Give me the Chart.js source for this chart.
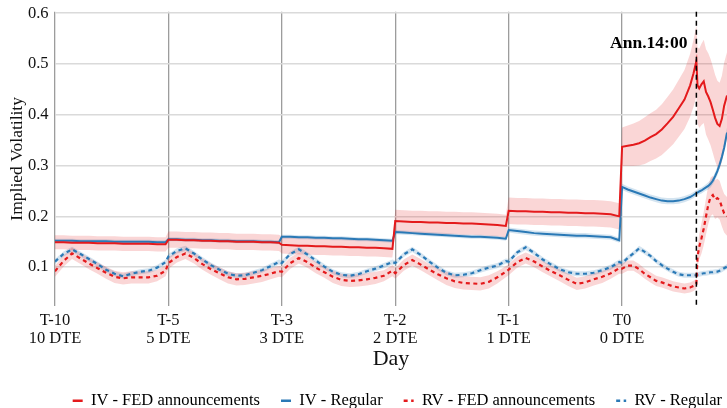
<!DOCTYPE html>
<html>
<head>
<meta charset="utf-8">
<script src="https://cdn.jsdelivr.net/npm/chart.js@4.4.1/dist/chart.umd.min.js"></script>
<style>
  html, body { margin: 0; padding: 0; background: #fff; overflow: hidden; }
  canvas { display: block; }
</style>
</head>
<body>
<canvas id="chart" width="727" height="408"></canvas>
<script>
// ---- data -------------------------------------------------------------
// trading days before the FOMC decision (x = day index, fraction = time within session)
const dayTicks = [0, 1, 2, 3, 4, 5];
const dayNames = ['T-10', 'T-5', 'T-3', 'T-2', 'T-1', 'T0'];
const dteNames = ['10 DTE', '5 DTE', '3 DTE', '2 DTE', '1 DTE', '0 DTE'];
const yTicks = [0.1, 0.2, 0.3, 0.4, 0.5, 0.6];

// intraday sampling positions for T-10 .. T-1 and the finer grid used on T0
const sessionSteps = [0, 0.075, 0.15, 0.225, 0.3, 0.375, 0.45, 0.525, 0.6, 0.675, 0.75, 0.825, 0.9, 0.975];
const lastSessionSteps = [0, 0.05, 0.1, 0.15, 0.2, 0.25, 0.3, 0.35, 0.4, 0.45, 0.5, 0.55, 0.6, 0.63, 0.655,
                          0.665, 0.68, 0.7, 0.72, 0.74, 0.76, 0.78, 0.8, 0.82, 0.84, 0.86, 0.88, 0.9, 0.925];
const announcementTime = 5.655;   // 14:00 on T0
const annLabelLevel = 0.532;
const xEnd = 5.925;
const yLow = 0.0235, yHigh = 0.603;

// IV - FED announcements (mean and half-width of the shaded band)
const ivFed = [
  0.149,0.149,0.148,0.148,0.148,0.147,0.147,0.147,0.146,0.146,0.146,0.146,0.145,0.145,
  0.154,0.154,0.153,0.153,0.152,0.152,0.151,0.151,0.150,0.150,0.150,0.149,0.149,0.148,
  0.144,0.143,0.142,0.142,0.141,0.141,0.140,0.140,0.139,0.139,0.138,0.138,0.137,0.136,
  0.191,0.190,0.189,0.189,0.188,0.188,0.187,0.187,0.186,0.186,0.185,0.184,0.183,0.181,
  0.211,0.210,0.210,0.209,0.209,0.208,0.208,0.207,0.207,0.206,0.206,0.205,0.204,0.200,
  0.337,0.339,0.341,0.344,0.349,0.356,0.362,0.371,0.383,0.396,0.413,0.430,0.458,0.482,0.506,
  0.458,0.452,0.460,0.466,0.445,0.436,0.425,0.410,0.394,0.382,0.378,0.392,0.418,0.438
];
const ivFedSpread = [
  0.014,0.014,0.014,0.014,0.014,0.014,0.014,0.014,0.014,0.014,0.014,0.014,0.014,0.014,
  0.016,0.016,0.016,0.016,0.016,0.016,0.016,0.016,0.016,0.016,0.016,0.016,0.016,0.016,
  0.017,0.017,0.017,0.017,0.017,0.017,0.017,0.017,0.017,0.017,0.017,0.017,0.017,0.017,
  0.022,0.022,0.022,0.022,0.022,0.022,0.022,0.022,0.022,0.022,0.022,0.022,0.022,0.022,
  0.026,0.026,0.026,0.026,0.026,0.026,0.026,0.026,0.026,0.026,0.026,0.026,0.026,0.026,
  0.038,0.040,0.042,0.044,0.046,0.047,0.048,0.050,0.052,0.054,0.056,0.058,0.062,0.066,0.070,
  0.075,0.078,0.080,0.082,0.084,0.085,0.085,0.085,0.085,0.085,0.085,0.085,0.085,0.085
];

// IV - Regular
const ivReg = [
  0.152,0.152,0.152,0.151,0.151,0.151,0.151,0.150,0.150,0.150,0.150,0.150,0.149,0.149,
  0.155,0.155,0.154,0.154,0.153,0.153,0.152,0.152,0.151,0.151,0.151,0.150,0.150,0.149,
  0.160,0.160,0.159,0.159,0.158,0.158,0.157,0.157,0.156,0.155,0.155,0.154,0.153,0.152,
  0.169,0.168,0.167,0.166,0.165,0.164,0.163,0.162,0.161,0.160,0.160,0.159,0.158,0.156,
  0.173,0.171,0.169,0.167,0.166,0.165,0.164,0.163,0.162,0.162,0.161,0.160,0.159,0.153,
  0.258,0.253,0.249,0.245,0.241,0.237,0.234,0.231,0.230,0.230,0.231,0.234,0.238,0.242,0.246,
  0.247,0.249,0.251,0.254,0.257,0.260,0.264,0.270,0.279,0.289,0.302,0.317,0.335,0.365
];
const ivRegSpread = [
  0.004,0.004,0.004,0.004,0.004,0.004,0.004,0.004,0.004,0.004,0.004,0.004,0.004,0.004,
  0.004,0.004,0.004,0.004,0.004,0.004,0.004,0.004,0.004,0.004,0.004,0.004,0.004,0.004,
  0.004,0.004,0.004,0.004,0.004,0.004,0.004,0.004,0.004,0.004,0.004,0.004,0.004,0.004,
  0.004,0.004,0.004,0.004,0.004,0.004,0.004,0.004,0.004,0.004,0.004,0.004,0.004,0.004,
  0.005,0.005,0.005,0.005,0.005,0.005,0.005,0.005,0.005,0.005,0.005,0.005,0.005,0.005,
  0.006,0.006,0.006,0.006,0.006,0.006,0.006,0.006,0.006,0.006,0.006,0.006,0.006,0.006,0.006,
  0.006,0.006,0.006,0.006,0.006,0.007,0.007,0.007,0.008,0.008,0.008,0.009,0.009,0.010
];

// RV - FED announcements
const rvFed = [
  0.092,0.112,0.127,0.117,0.107,0.098,0.089,0.081,0.078,0.080,0.080,0.080,0.083,0.093,
  0.108,0.120,0.127,0.118,0.106,0.096,0.088,0.080,0.076,0.077,0.080,0.083,0.087,0.092,
  0.091,0.108,0.118,0.110,0.099,0.090,0.081,0.075,0.073,0.074,0.076,0.079,0.083,0.093,
  0.088,0.104,0.114,0.105,0.095,0.086,0.078,0.072,0.069,0.068,0.067,0.071,0.080,0.091,
  0.095,0.110,0.118,0.111,0.101,0.092,0.084,0.075,0.067,0.070,0.076,0.081,0.088,0.098,
  0.097,0.103,0.103,0.096,0.087,0.080,0.073,0.070,0.066,0.062,0.060,0.058,0.060,0.063,0.067,
  0.121,0.140,0.157,0.176,0.200,0.223,0.238,0.242,0.233,0.236,0.232,0.218,0.206,0.200
];
const rvFedSpread = [
  0.011,0.011,0.011,0.011,0.011,0.011,0.012,0.012,0.012,0.012,0.012,0.012,0.011,0.011,
  0.011,0.011,0.011,0.011,0.011,0.011,0.012,0.012,0.012,0.012,0.012,0.012,0.011,0.011,
  0.011,0.011,0.011,0.011,0.011,0.011,0.012,0.012,0.012,0.012,0.012,0.012,0.011,0.011,
  0.011,0.011,0.011,0.011,0.011,0.012,0.013,0.013,0.013,0.013,0.013,0.013,0.012,0.011,
  0.011,0.011,0.011,0.011,0.011,0.011,0.012,0.012,0.012,0.012,0.012,0.012,0.011,0.011,
  0.010,0.010,0.010,0.010,0.010,0.010,0.010,0.010,0.010,0.010,0.010,0.010,0.010,0.010,0.010,
  0.020,0.025,0.030,0.033,0.035,0.038,0.038,0.038,0.038,0.038,0.038,0.038,0.038,0.038
];

// RV - Regular
const rvReg = [
  0.111,0.126,0.135,0.126,0.116,0.106,0.095,0.087,0.082,0.087,0.091,0.093,0.099,0.110,
  0.121,0.132,0.137,0.127,0.115,0.104,0.095,0.087,0.083,0.084,0.089,0.094,0.102,0.110,
  0.108,0.126,0.135,0.125,0.113,0.101,0.091,0.085,0.083,0.086,0.092,0.097,0.103,0.110,
  0.108,0.125,0.135,0.124,0.111,0.099,0.089,0.084,0.085,0.088,0.094,0.099,0.103,0.112,
  0.111,0.129,0.139,0.128,0.115,0.105,0.096,0.090,0.087,0.087,0.089,0.094,0.100,0.110,
  0.108,0.118,0.127,0.137,0.130,0.122,0.112,0.104,0.097,0.091,0.086,0.084,0.084,0.084,0.084,
  0.085,0.086,0.087,0.088,0.088,0.089,0.090,0.090,0.091,0.091,0.093,0.095,0.098,0.101
];
const rvRegSpread = [
  0.005,0.005,0.005,0.005,0.005,0.005,0.005,0.005,0.005,0.005,0.005,0.005,0.005,0.005,
  0.005,0.005,0.005,0.005,0.005,0.005,0.005,0.005,0.005,0.005,0.005,0.005,0.005,0.005,
  0.005,0.005,0.005,0.005,0.005,0.005,0.005,0.005,0.005,0.005,0.005,0.005,0.005,0.005,
  0.005,0.005,0.005,0.005,0.005,0.005,0.005,0.005,0.005,0.005,0.005,0.005,0.005,0.005,
  0.005,0.005,0.005,0.005,0.005,0.005,0.005,0.005,0.005,0.005,0.005,0.005,0.005,0.005,
  0.005,0.005,0.005,0.005,0.005,0.005,0.005,0.005,0.005,0.005,0.005,0.005,0.005,0.005,0.005,
  0.005,0.005,0.005,0.005,0.005,0.005,0.005,0.005,0.005,0.005,0.005,0.005,0.005,0.005
];

// ---- styling ----------------------------------------------------------
const SERIF = "'Liberation Serif', 'DejaVu Serif', serif";
const INK = '#111';
const RED = '#e41a1c';
const BLUE = '#2a79b6';
const RED_BAND = 'rgba(228, 26, 28, 0.18)';
const BLUE_BAND = 'rgba(42, 121, 182, 0.20)';

// x positions: sessions T-10..T-1 on the regular grid, T0 on the finer grid
const xs = [];
for (let d = 0; d < 5; d++) sessionSteps.forEach(f => xs.push(d + f));
lastSessionSteps.forEach(f => xs.push(5 + f));

const toPoints = vals => vals.map((v, i) => ({ x: xs[i], y: v }));
const shifted = (vals, spread, sign) => vals.map((v, i) => ({ x: xs[i], y: v + sign * spread[i] }));

const series = [
  { label: 'IV - FED announcements', vals: ivFed, spread: ivFedSpread, color: RED,  band: RED_BAND,  dash: [],       width: 2.0, order: 3 },
  { label: 'IV - Regular',           vals: ivReg, spread: ivRegSpread, color: BLUE, band: BLUE_BAND, dash: [],       width: 2.0, order: 4 },
  { label: 'RV - FED announcements', vals: rvFed, spread: rvFedSpread, color: RED,  band: RED_BAND,  dash: [4, 3.5], width: 2.2, order: 1 },
  { label: 'RV - Regular',           vals: rvReg, spread: rvRegSpread, color: BLUE, band: BLUE_BAND, dash: [4, 3.5], width: 2.2, order: 2 }
];

const lineSets = series.map(s => ({
  label: s.label,
  data: toPoints(s.vals),
  borderColor: s.color,
  borderWidth: s.width,
  borderDash: s.dash,
  pointRadius: 0,
  tension: 0,
  fill: false,
  order: s.order
}));

const bandSets = [];
series.forEach(s => {
  bandSets.push({ label: '', data: shifted(s.vals, s.spread, -1), borderWidth: 0, pointRadius: 0, fill: false, order: 10 });
  bandSets.push({ label: '', data: shifted(s.vals, s.spread, 1), borderWidth: 0, pointRadius: 0, fill: '-1', backgroundColor: s.band, order: 10 });
});

// dashed announcement marker with its label
const announcementMarker = {
  id: 'announcementMarker',
  afterDatasetsDraw(chart) {
    const { ctx, chartArea, scales } = chart;
    const x = scales.x.getPixelForValue(announcementTime);
    ctx.save();
    ctx.strokeStyle = '#000';
    ctx.lineWidth = 1.5;
    ctx.setLineDash([5, 4]);
    ctx.beginPath();
    ctx.moveTo(x, chartArea.top);
    ctx.lineTo(x, chartArea.bottom);
    ctx.stroke();
    ctx.setLineDash([]);
    ctx.fillStyle = '#000';
    ctx.font = "bold 17.5px " + SERIF;
    ctx.textAlign = 'right';
    ctx.textBaseline = 'alphabetic';
    ctx.fillText('Ann.14:00', x - 9, scales.y.getPixelForValue(annLabelLevel));
    ctx.restore();
  }
};

// move the legend row down/right a little below the axis title
const legendNudge = {
  id: 'legendNudge',
  afterLayout(chart) {
    const lg = chart.legend;
    if (!lg) return;
    lg.left += 16; lg.right += 16;
    lg.top += 11; lg.bottom += 11;
  }
};

Chart.defaults.font.family = SERIF;
Chart.defaults.color = INK;

new Chart(document.getElementById('chart'), {
  type: 'line',
  data: { datasets: [...lineSets, ...bandSets] },
  options: {
    responsive: false,
    animation: false,
    events: [],
    layout: { padding: { top: 11.7, right: 0, bottom: 0, left: 0 } },
    plugins: {
      tooltip: { enabled: false },
      legend: {
        position: 'bottom',
        align: 'end',
        labels: {
          usePointStyle: true,
          pointStyleWidth: 10,
          boxWidth: 10,
          boxHeight: 10,
          padding: 21,
          color: INK,
          font: { family: SERIF, size: 16.5 },
          generateLabels(chart) {
            return chart.data.datasets.slice(0, 4).map((ds, i) => ({
              text: ds.label,
              fillStyle: ds.borderColor,
              strokeStyle: ds.borderColor,
              lineWidth: 2.6,
              lineDash: ds.borderDash,
              pointStyle: 'line',
              hidden: false,
              datasetIndex: i
            }));
          }
        }
      }
    },
    scales: {
      x: {
        type: 'linear',
        min: 0,
        max: xEnd,
        afterBuildTicks(scale) { scale.ticks = dayTicks.map(v => ({ value: v })); },
        afterFit(scale) { scale.height = 54.5; },
        ticks: {
          autoSkip: false,
          maxRotation: 0,
          padding: 6.5,
          color: INK,
          font: { family: SERIF, size: 16.5, lineHeight: 1.05 },
          callback(value) {
            const i = dayTicks.indexOf(value);
            return [dayNames[i], dteNames[i]];
          }
        },
        grid: { color: '#9c9c9c', lineWidth: 1.3, drawTicks: false },
        border: { display: false },
        title: {
          display: true,
          text: 'Day',
          color: INK,
          font: { family: SERIF, size: 22 },
          padding: { top: 0, bottom: -11.5 }
        }
      },
      y: {
        min: yLow,
        max: yHigh,
        afterBuildTicks(scale) { scale.ticks = yTicks.map(v => ({ value: v })); },
        afterFit(scale) { scale.width = 55; },
        ticks: {
          padding: 6.5,
          color: INK,
          font: { family: SERIF, size: 16.5, lineHeight: 0.6 },
          callback(value) { return value.toFixed(1); }
        },
        grid: { color: '#dadada', lineWidth: 1.5, drawTicks: false },
        border: { display: false },
        title: {
          display: true,
          text: 'Implied Volatility',
          color: INK,
          font: { family: SERIF, size: 17.5 },
          padding: { top: 7, bottom: 0 }
        }
      }
    }
  },
  plugins: [announcementMarker, legendNudge]
});
</script>
</body>
</html>
